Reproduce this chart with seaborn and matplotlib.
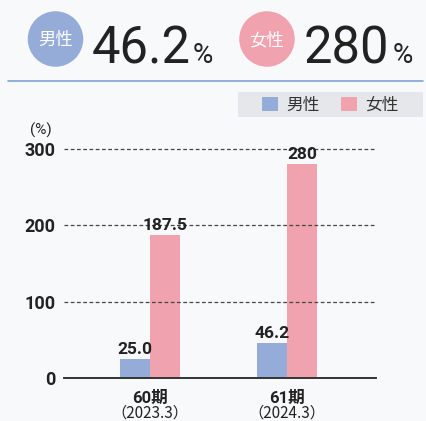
"""Gender ratio bar chart (男性 / 女性) recreated with seaborn"""

import matplotlib
matplotlib.use("Agg")
import matplotlib.pyplot as plt
from matplotlib.patches import Ellipse, Rectangle
from matplotlib.lines import Line2D
import seaborn as sns
import pandas as pd

# data
periods = ["60期", "61期"]
dates = ["（2023.3）", "（2024.3）"]
genders = ["男性", "女性"]
male = [25.0, 46.2]
female = [187.5, 280]
yticks = [0, 100, 200, 300]

BLUE = "#94acd7"
PINK = "#f0a3ae"
INK = "#222222"
BG = "#f8f9fb"

sns.set_theme(style="white")
plt.rcParams["font.family"] = ["Roboto", "Noto Sans CJK JP", "DejaVu Sans"]

df = pd.DataFrame({
    "period": periods * 2,
    "gender": [genders[0]] * len(periods) + [genders[1]] * len(periods),
    "value": male + female,
})

W, H = 427, 421
fig = plt.figure(figsize=(W / 100, H / 100), dpi=100, facecolor=BG)
ax = fig.add_axes([64 / W, 43 / H, 312 / W, 232.8 / H])
ax.set_facecolor(BG)

sns.barplot(data=df, x="period", y="value", hue="gender", hue_order=genders,
            palette=[BLUE, PINK], width=0.438, saturation=1, linewidth=0,
            errorbar=None, ax=ax)

# bar value labels
fmts = ["{:.1f}", "{:g}"]
for cont, fmt in zip(ax.containers, fmts):
    ax.bar_label(cont, labels=[fmt.format(v) for v in cont.datavalues],
                 padding=1.5, fontsize=12.5, fontweight="bold", color=INK)

ax.set_ylim(0, 305)
ax.set_xlim(-0.628, 1.65)
ax.set_yticks(yticks)
ax.set_xlabel("")
ax.set_ylabel("")
ax.tick_params(axis="y", length=0, pad=6, labelsize=13, labelcolor=INK)
ax.tick_params(axis="x", length=0, pad=9, labelsize=12, labelcolor=INK)
for lab in ax.get_yticklabels() + ax.get_xticklabels():
    lab.set_fontweight("bold")

for s in ["left", "right", "top"]:
    ax.spines[s].set_visible(False)
ax.spines["bottom"].set_color("#333333")
ax.spines["bottom"].set_linewidth(1.4)

ax.yaxis.grid(True, linestyle=(0, (3, 2)), color="#444444", linewidth=0.9)
ax.set_axisbelow(False)

# second line of category labels
for x, d in zip(ax.get_xticks(), dates):
    ax.annotate(d, xy=(x, 0), xycoords=("data", "axes fraction"),
                xytext=(0, -35), textcoords="offset pixels",
                ha="center", va="center", fontsize=11, color=INK,
                family=["Noto Sans CJK JP", "DejaVu Sans"])

# unit label
fig.text(41 / W, 1 - 130 / H, "(%)", ha="center", va="center",
         fontsize=11, color=INK)

# legend with grey background
fig.add_artist(Rectangle((238 / W, 1 - 117 / H), 185 / W, 25 / H,
                         transform=fig.transFigure, facecolor="#e6e7ea",
                         edgecolor="none", zorder=-1))
handles, labels = ax.get_legend_handles_labels()
ax.legend(handles, labels, loc="center", bbox_to_anchor=(330 / W, 1 - 104.5 / H),
          bbox_transform=fig.transFigure, ncol=2, frameon=False,
          fontsize=12, handlelength=0.95, handleheight=0.95,
          handletextpad=0.5, columnspacing=1.3, labelcolor="#333333")

# header: latest values
latest = [f"{male[-1]:.1f}", f"{female[-1]:g}"]
circle_x = [55.5, 267]
num_x = [92, 304]
pct_x = [193, 393]
for cx, nx, px, g, val, col in zip(circle_x, num_x, pct_x, genders, latest, [BLUE, PINK]):
    fig.add_artist(Ellipse((cx / W, 1 - 39 / H), 55.5 / W, 55.5 / H,
                           transform=fig.transFigure, facecolor=col, edgecolor="none"))
    fig.text(cx / W, 1 - 40 / H, g, ha="center", va="center",
             fontsize=12.5, color="white")
    fig.text(nx / W, 1 - 63 / H, val, ha="left", va="baseline",
             fontsize=36.5, color=INK)
    fig.text(px / W, 1 - 63 / H, "%", ha="left", va="baseline",
             fontsize=20, color=INK)

fig.add_artist(Line2D([8 / W, 423 / W], [1 - 81 / H] * 2, transform=fig.transFigure,
                      color="#7aa3d6", linewidth=1.2))

fig.savefig("out.png", dpi=100, facecolor=BG)
